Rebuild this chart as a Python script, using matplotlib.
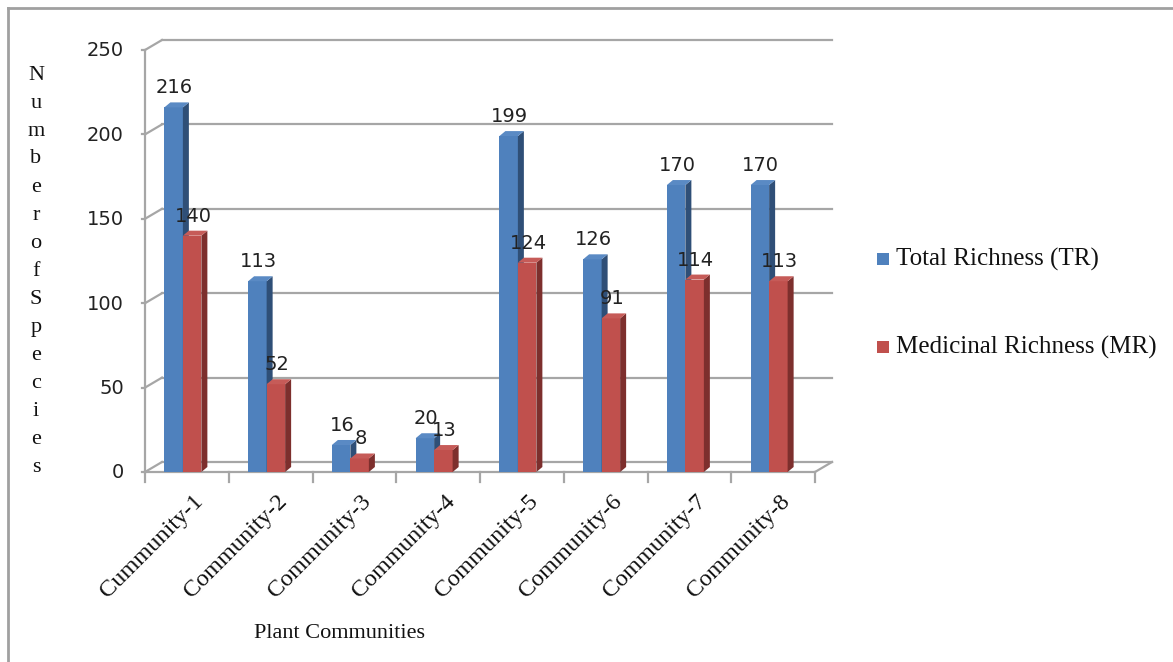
import numpy as np
import matplotlib.pyplot as plt
from matplotlib.patches import Polygon, Rectangle
from matplotlib.lines import Line2D
from matplotlib.transforms import offset_copy

# Species richness per plant community
communities = ['Cummunity-1', 'Community-2', 'Community-3', 'Community-4',
               'Community-5', 'Community-6', 'Community-7', 'Community-8']
total_richness = [216, 113, 16, 20, 199, 126, 170, 170]
medicinal_richness = [140, 52, 8, 13, 124, 91, 114, 113]
series_names = ['Total Richness (TR)', 'Medicinal Richness (MR)']
y_ticks = [0, 50, 100, 150, 200, 250]

W, H = 1173, 662
SERIF = 'Liberation Serif'
GRID = '#a6a6a6'

# face colours: front, side, top
blue = ('#4f81bd', '#2f4f77', '#5a8ac4')
red = ('#c0504d', '#7d2f2d', '#c65b58')

fig = plt.figure(figsize=(W / 100, H / 100), dpi=100)
ax = fig.add_axes([145 / W, 1 - 472 / H, 670 / W, 422 / H])
ax.set_xlim(-0.5, 7.5)
ax.set_ylim(0, 250)
ax.axis('off')

px_x = 670 / 8          # pixels per category
px_y = 422 / 250        # pixels per unit
DX, DY = 17 / px_x, 10 / px_y      # wall depth
BDX, BDY = 6 / px_x, 5 / px_y      # bar depth
bar_w = 18.5 / px_x
shift = -4 / px_x

def line(xs, ys, **kw):
    ax.add_line(Line2D(xs, ys, color=GRID, lw=1.6, clip_on=False, **kw))

# back wall gridlines and the left edge connectors
for v in y_ticks:
    line([-0.5 + DX, 7.5 + DX], [v + DY, v + DY])
    line([-0.5, -0.5 + DX], [v, v + DY])
    line([-0.5 - 3 / px_x, -0.5], [v, v])
# front axis and floor
line([-0.5, -0.5], [0, 250])
line([-0.5, 7.5], [0, 0])
line([7.5, 7.5 + DX], [0, DY])
for i in range(9):
    line([i - 0.5, i - 0.5], [0, -10 / px_y])

# y tick labels
for v in y_ticks:
    ax.text(-0.5, v, str(v), transform=offset_copy(ax.transData, fig, x=-21, y=-1, units='dots'),
            ha='right', va='center', fontsize=14, color='#222222', family='DejaVu Sans')

def bar3d(x0, v, cols):
    x1 = x0 + bar_w
    ax.add_patch(Rectangle((x0, 0), bar_w, v, facecolor=cols[0], edgecolor='none', zorder=3, clip_on=False))
    ax.add_patch(Polygon([(x1, 0), (x1 + BDX, BDY), (x1 + BDX, v + BDY), (x1, v)],
                         facecolor=cols[1], edgecolor='none', zorder=3, clip_on=False))
    ax.add_patch(Polygon([(x0, v), (x1, v), (x1 + BDX, v + BDY), (x0 + BDX, v + BDY)],
                         facecolor=cols[2], edgecolor='none', zorder=3, clip_on=False))

x = np.arange(len(communities))
for i in x:
    xb = i + shift - bar_w
    xr = i + shift
    bar3d(xb, total_richness[i], blue)
    bar3d(xr, medicinal_richness[i], red)

for i in x:
    for xc, v in [(i + shift - bar_w / 2, total_richness[i]), (i + shift + bar_w / 2, medicinal_richness[i])]:
        ax.annotate(str(v), xy=(xc, v), xytext=(1, 10), textcoords='offset pixels',
                    ha='center', va='bottom', fontsize=14, color='#222222',
                    family='DejaVu Sans', zorder=5, annotation_clip=False)

# rotated category labels
for i in x:
    ax.text(i, 0, communities[i], transform=offset_copy(ax.transData, fig, x=6, y=-19, units='dots'),
            rotation=45, rotation_mode='anchor', ha='right', va='top',
            fontsize=17.5, family=SERIF, color='#111111')

# legend
for k, (name, c) in enumerate(zip(series_names, [blue[0], red[0]])):
    yc = 259 + k * 88
    fig.add_artist(Rectangle((877 / W, 1 - (yc + 6) / H), 12 / W, 12 / H,
                             transform=fig.transFigure, facecolor=c, edgecolor='none'))
    fig.text(896 / W, 1 - yc / H, name, ha='left', va='center', fontsize=18,
             family=SERIF, color='#111111')

# axis titles
for j, ch in enumerate('NumberofSpecies'):
    fig.text(36 / W, 1 - (75 + 28 * j) / H, ch, ha='center', va='center',
             fontsize=16, family=SERIF, color='#111111')
fig.text(339 / W, 1 - 634 / H, 'Plant Communities', ha='center', va='center',
         fontsize=16, family=SERIF, color='#111111')

# outer frame (top and left only)
fig.add_artist(Line2D([8 / W, 1], [1 - 8 / H, 1 - 8 / H], transform=fig.transFigure, color='#a0a0a0', lw=2))
fig.add_artist(Line2D([8 / W, 8 / W], [0, 1 - 8 / H], transform=fig.transFigure, color='#a0a0a0', lw=2))

fig.savefig('out.png', dpi=100)
